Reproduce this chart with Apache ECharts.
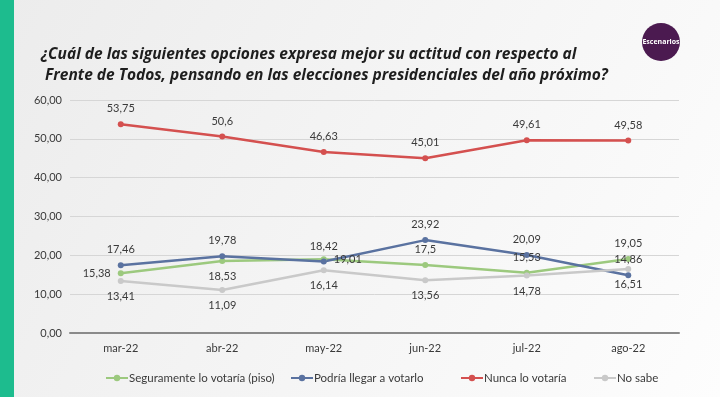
<!DOCTYPE html>
<html><head><meta charset="utf-8">
<script src="https://cdn.jsdelivr.net/npm/echarts@6/dist/echarts.min.js"></script>
<style>html,body{margin:0;padding:0;}#c{width:720px;height:397px;}</style>
</head><body><div id="c"></div>
<script>
const categories = ['mar-22','abr-22','may-22','jun-22','jul-22','ago-22'];
const seguramente = [15.38, 18.53, 19.01, 17.5, 15.53, 19.05];
const podria = [17.46, 19.78, 18.42, 23.92, 20.09, 14.86];
const nunca = [53.75, 50.6, 46.63, 45.01, 49.61, 49.58];
const noSabe = [13.41, 11.09, 16.14, 13.56, 14.78, 16.51];
const seriesNames = ['Seguramente lo votaría (piso)','Podría llegar a votarlo','Nunca lo votaría','No sabe'];
const titleLines = ['¿Cuál de las siguientes opciones expresa mejor su actitud con respecto al',' Frente de Todos, pensando en las elecciones presidenciales del año próximo?'];

const greenPos = ['left','bottom','right','top','top','top'];
const legendLeft = [100, 285, 455, 588];
const fmt = v => String(v).replace('.', ',');
const lblBase = {show:true, fontSize:11, color:'#3a3a3a', fontFamily:'Lato', formatter: p => fmt(p.value)};

function mk(name, vals, color, pos){
  return {
    name, type:'line', data: vals.map((v,i)=>({value:v, label:{position: Array.isArray(pos)?pos[i]:pos}})),
    symbol:'circle', symbolSize:6, lineStyle:{width:2.5,color}, itemStyle:{color},
    label:Object.assign({}, lblBase, {distance:7})
  };
}
const chart = echarts.init(document.getElementById('c'));
chart.setOption({
  backgroundColor: new echarts.graphic.LinearGradient(0,0,1,1,[{offset:0,color:'#ececec'},{offset:1,color:'#fdfdfd'}]),
  animation:false,
  title:{text:titleLines.join('\n'), left:36, top:39, textStyle:{fontFamily:'Open Sans', fontStyle:'italic', fontWeight:'bold', fontSize:15.5, lineHeight:21, color:'#1e1e1e'}},
  graphic:[
    {type:'rect', left:0, top:0, shape:{width:14,height:397}, style:{fill:'#1dbc8e'}},
    {type:'circle', shape:{cx:661,cy:42,r:19}, style:{fill:'#4b1a50'}},
    {type:'text', x:661, y:42, style:{text:'Escenarios', fill:'#fff', fontSize:7, fontWeight:'bold', fontFamily:'Open Sans', align:'center', verticalAlign:'middle'}}
  ],
  grid:{left:70, right:41, top:100, bottom:64},
  legend: seriesNames.map((n,i)=>({bottom:8, left:legendLeft[i], itemWidth:22, itemHeight:8, itemGap:2,
    textStyle:{fontSize:11.5, color:'#3a3a3a', fontFamily:'Lato', padding:[0,0,0,-4]}, data:[n]})),
  xAxis:{type:'category', data:categories, boundaryGap:true,
    axisLine:{lineStyle:{color:'#8a8a8a', width:2}}, axisTick:{show:false},
    axisLabel:{fontSize:11, color:'#3a3a3a', fontFamily:'Lato', margin:10}},
  yAxis:{type:'value', min:0, max:60, interval:10,
    axisLabel:{fontSize:11, color:'#3a3a3a', fontFamily:'Lato', formatter: v => v.toFixed(2).replace('.', ','), margin:8},
    splitLine:{lineStyle:{color:'#d6d6d6', width:1}}, axisLine:{show:false}},
  series:[
    mk(seriesNames[0], seguramente, '#9cc97e', greenPos),
    mk(seriesNames[1], podria, '#5a72a0', 'top'),
    mk(seriesNames[2], nunca, '#d4504f', 'top'),
    mk(seriesNames[3], noSabe, '#c9c9c9', 'bottom')
  ]
});
</script></body></html>
